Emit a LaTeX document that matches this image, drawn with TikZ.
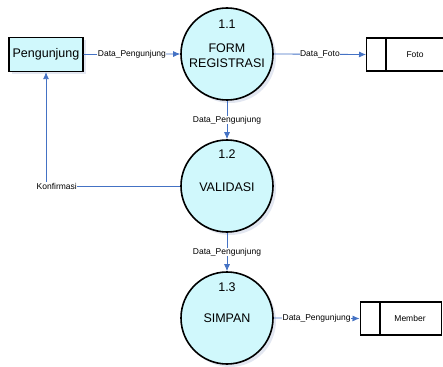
\documentclass[tikz,border=0pt]{standalone}
\usepackage{fontspec}
\setmainfont{Liberation Sans}
\usetikzlibrary{arrows.meta,shadows}
\definecolor{procfill}{RGB}{208,248,252}
\definecolor{flowblue}{RGB}{68,114,196}
\definecolor{shade}{RGB}{200,208,228}

\begin{document}
\begin{tikzpicture}[x=1pt, y=-1pt,
  proc/.style={circle, draw, line width=1.6pt, fill=procfill, minimum size=92pt, inner sep=0pt,
    drop shadow={fill=shade, shadow xshift=3pt, shadow yshift=-3pt}},
  entity/.style={rectangle, draw, line width=1.3pt, fill=procfill, minimum width=74pt, minimum height=34pt,
    font=\fontsize{12.5}{15}\selectfont,
    drop shadow={fill=shade, shadow xshift=3pt, shadow yshift=-3pt}},
  store/.style={rectangle, draw, line width=1.3pt, fill=white, minimum height=33pt, inner sep=0pt},
  flow/.style={flowblue, line width=0.8pt, -{Latex[length=7pt,width=6pt]}},
  lbl/.style={fill=white, inner sep=0.5pt, text=black, font=\fontsize{8.5}{10}\selectfont},
  num/.style={font=\fontsize{12.5}{14}\selectfont},
  ptext/.style={font=\fontsize{12.5}{15}\selectfont, align=center}]
\useasboundingbox (0,0) rectangle (443,366);

% external entity
\node[entity] (peng) at (46,54.5) {Pengunjung};

% processes
\node[proc] (form) at (227,54) {};
\node[num] at (227,24) {1.1};
\node[ptext] at (227,56) {FORM\\REGISTRASI};

\node[proc] (valid) at (227,186) {};
\node[num] at (227,154) {1.2};
\node[ptext] at (227,187) {VALIDASI};

\node[proc] (simpan) at (227,318) {};
\node[num] at (227,287) {1.3};
\node[ptext] at (227,318) {SIMPAN};

% data stores
\node[store, minimum width=84pt, anchor=west] (foto) at (366,54.5) {};
\draw[line width=1.3pt] (386,38) -- (386,71);
\node[lbl, fill=none] at (415,54.5) {Foto};

\node[store, minimum width=81pt, anchor=west] (member) at (359.5,318.5) {};
\draw[line width=1.3pt] (380,302) -- (380,335);
\node[lbl, fill=none] at (410,318.5) {Member};

% data flows
\draw[flow] (peng.east) -- node[lbl] {Data\_Pengunjung} (form.west);
\draw[flow] (form.east) -- node[lbl] {Data\_Foto} (foto.west);
\draw[flow] (form.south) -- node[lbl] {Data\_Pengunjung} (valid.north);
\draw[flow] (valid.south) -- node[lbl] {Data\_Pengunjung} (simpan.north);
\draw[flow] (simpan.east) -- node[lbl] {Data\_Pengunjung} (member.west);
\draw[flow] (valid.west) -| node[lbl, pos=0.46] {Konfirmasi} (peng.south);
\end{tikzpicture}
\end{document}
